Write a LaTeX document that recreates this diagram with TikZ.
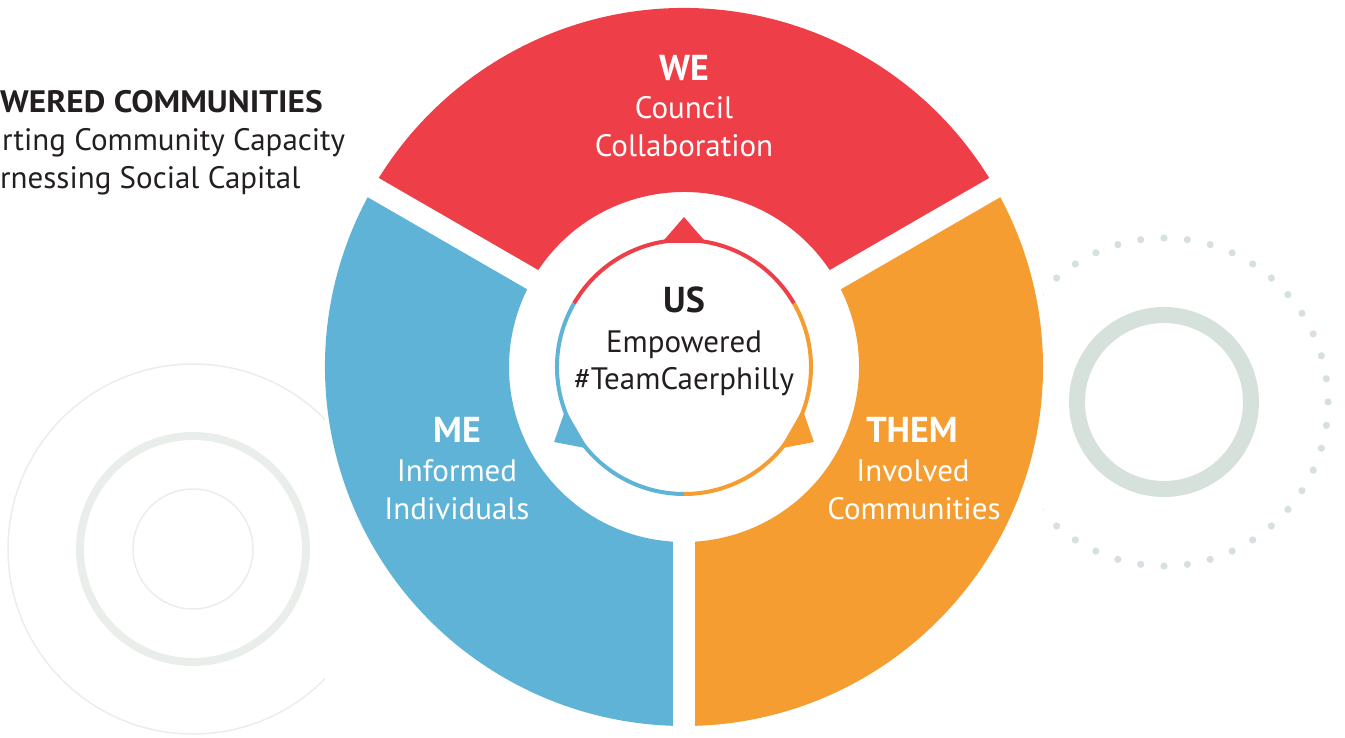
\documentclass[tikz,border=0pt]{standalone}
\usepackage{fontspec}
\setmainfont{PT Sans}
\usetikzlibrary{calc}
\definecolor{segred}{HTML}{EE3E47}
\definecolor{segblue}{HTML}{5EB3D6}
\definecolor{segorange}{HTML}{F59D31}
\definecolor{decogray}{HTML}{D7E1DC}
\definecolor{decolight}{HTML}{E9EEEB}
\definecolor{ink}{HTML}{231F20}
\newcommand\ringseg[3]{%
  \fill[#3] ($(C)+(#1:359)$) arc[start angle=#1,end angle=#2,radius=359]
    -- ($(C)+(#2:175)$) arc[start angle=#2,end angle=#1,radius=175] -- cycle;}
\newcommand\ringgap[1]{%
  \fill[white] ($(C)+(#1:165)+(#1+90:11)$) -- ($(C)+(#1:366)+(#1+90:11)$)
    -- ($(C)+(#1:366)+(#1-90:11)$) -- ($(C)+(#1:165)+(#1-90:11)$) -- cycle;}
\newcommand\pointer[2]{%
  \fill[#2] ($(C)+(#1:150)$) -- ($(C)+(#1:124)+(#1+90:22.5)$)
    -- ($(C)+(#1:124)+(#1-90:22.5)$) -- cycle;}
\begin{document}
\begin{tikzpicture}[x=1pt,y=1pt,
  lbl/.style={anchor=base,inner sep=0pt,font=\fontsize{31}{31}\selectfont},
  head/.style={anchor=base,inner sep=0pt,font=\fontsize{36}{36}\selectfont\bfseries},
  side/.style={anchor=base west,inner sep=0pt,text=ink,font=\fontsize{31}{31}\selectfont},
  thinarc/.style={line width=4pt}]
\useasboundingbox (0,0) rectangle (1345,737);
\coordinate (C) at (684,370);
\coordinate (L) at (193,188);
\coordinate (D) at (1164,335);
% left decoration
\begin{scope}
  \clip (0,0) rectangle (325,737);
  \draw[decolight,line width=1.5pt] (L) circle[radius=185];
  \draw[decolight,line width=8pt] (L) circle[radius=113];
  \draw[decolight,line width=1.5pt] (L) circle[radius=60];
\end{scope}
% right decoration
\draw[decogray,line width=16pt] (D) circle[radius=87];
\begin{scope}
  \clip (1043,0) rectangle (1345,737);
  \foreach \a in {0,8.1818,...,355}
    \fill[decogray] ($(D)+(\a:164)$) circle[radius=3.6];
\end{scope}
% ring segments
\ringseg{30}{150}{segred}
\ringseg{150}{270}{segblue}
\ringseg{270}{390}{segorange}
\ringgap{30}
\ringgap{150}
\ringgap{270}
% centre
\pointer{90}{segred}
\pointer{210}{segblue}
\pointer{330}{segorange}
\draw[segred,thinarc] ($(C)+(30:127)$) arc[start angle=30,end angle=150,radius=127];
\draw[segblue,thinarc] ($(C)+(150:127)$) arc[start angle=150,end angle=270,radius=127];
\draw[segorange,thinarc] ($(C)+(270:127)$) arc[start angle=270,end angle=390,radius=127];
% texts
\node[head,text=white] (we) at (684,656) {WE};
\node[lbl,text=white] (council) at (684,618) {Council};
\node[lbl,text=white] (collab) at (684,580) {Collaboration};
\node[head,text=ink] (us) at (684,424) {US};
\node[lbl,text=ink] (emp) at (684,384) {Empowered};
\node[lbl,text=ink] (team) at (684,347) {\#TeamCaerphilly};
\node[head,text=white] (me) at (457,294) {ME};
\node[lbl,text=white] (inf) at (457,255) {Informed};
\node[lbl,text=white] (ind) at (457,217) {Individuals};
\node[head,text=white] (them) at (912,294) {THEM};
\node[lbl,text=white] (inv) at (913,255) {Involved};
\node[lbl,text=white] (comm) at (914,217) {Communities};
\node[side,xscale=1.075,font=\fontsize{31}{31}\selectfont\bfseries] (t1) at (0,624) {WERED COMMUNITIES};
\node[side] (t2) at (2,586) {rting Community Capacity};
\node[side] (t3) at (0,548) {rnessing Social Capital};
\end{tikzpicture}
\end{document}
